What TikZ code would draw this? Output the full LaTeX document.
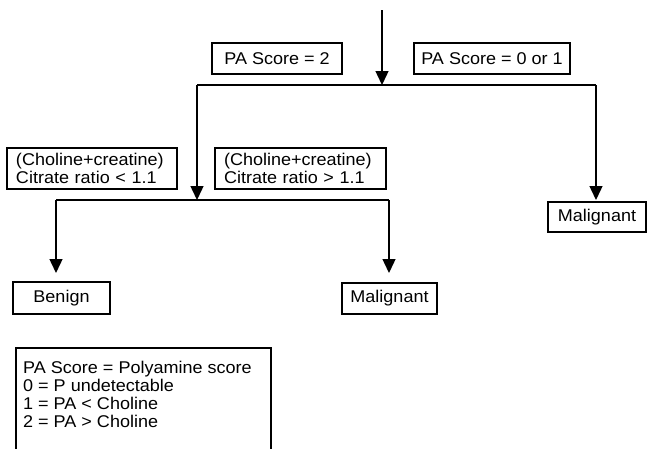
\documentclass[tikz,border=0pt]{standalone}
\usepackage{fontspec}
\setmainfont[FakeStretch=1.06]{Liberation Sans}
\usetikzlibrary{arrows.meta}
\begin{document}
\begin{tikzpicture}[x=1pt,y=-1pt,
  font=\fontsize{17}{18}\selectfont,
  box/.style={draw,line width=1.3pt,inner sep=0pt,align=center},
  lbox/.style={draw,line width=1.3pt,inner xsep=9pt,inner ysep=0pt,align=left},
  ln/.style={line width=1.4pt},
  arr/.style={line width=1.4pt,-{Triangle[width=13pt,length=14pt]}}]
\useasboundingbox (0,0) rectangle (648,448);
% labels
\node[box,minimum width=130pt,minimum height=31pt] (pa2) at (277,58.5) {PA Score = 2};
\node[box,minimum width=156pt,minimum height=31pt] (pa01) at (492,58.5) {PA Score = 0 or 1};
\node[lbox,text width=152pt,minimum height=41pt] (ch1) at (92,168.5) {(Choline+creatine)\\Citrate ratio < 1.1};
\node[lbox,text width=153pt,minimum height=41pt] (ch2) at (300.5,168.5) {(Choline+creatine)\\Citrate ratio > 1.1};
% outcomes
\node[box,minimum width=97pt,minimum height=32pt] (ben) at (61.5,298) {Benign};
\node[box,minimum width=95pt,minimum height=31pt] (mal2) at (389.5,298.5) {Malignant};
\node[box,minimum width=98pt,minimum height=30pt] (mal1) at (597,217) {Malignant};
% connectors
\coordinate (top) at (382,10);
\coordinate (j1) at (382,85);
\coordinate (l1) at (197,85);
\coordinate (r1) at (596,85);
\coordinate (j2) at (197,200);
\coordinate (l2) at (56,200);
\coordinate (r2) at (389,200);
\coordinate (bt) at (56,273);
\coordinate (mt) at (389,273);
\coordinate (rt) at (596,200);
\draw[arr] (top) -- (j1);
\draw[ln] (l1) -- (r1);
\draw[arr] (l1) -- (j2);
\draw[arr] (r1) -- (rt);
\draw[ln] (l2) -- (r2);
\draw[arr] (l2) -- (bt);
\draw[arr] (r2) -- (mt);
% legend
\draw[line width=1.3pt] (16,348) rectangle (271,460);
\node[anchor=north west,inner sep=0pt,align=left] (leg) at (23,361)
  {PA Score = Polyamine score\\0 = P undetectable\\1 = PA < Choline\\2 = PA > Choline};
\end{tikzpicture}
\end{document}
